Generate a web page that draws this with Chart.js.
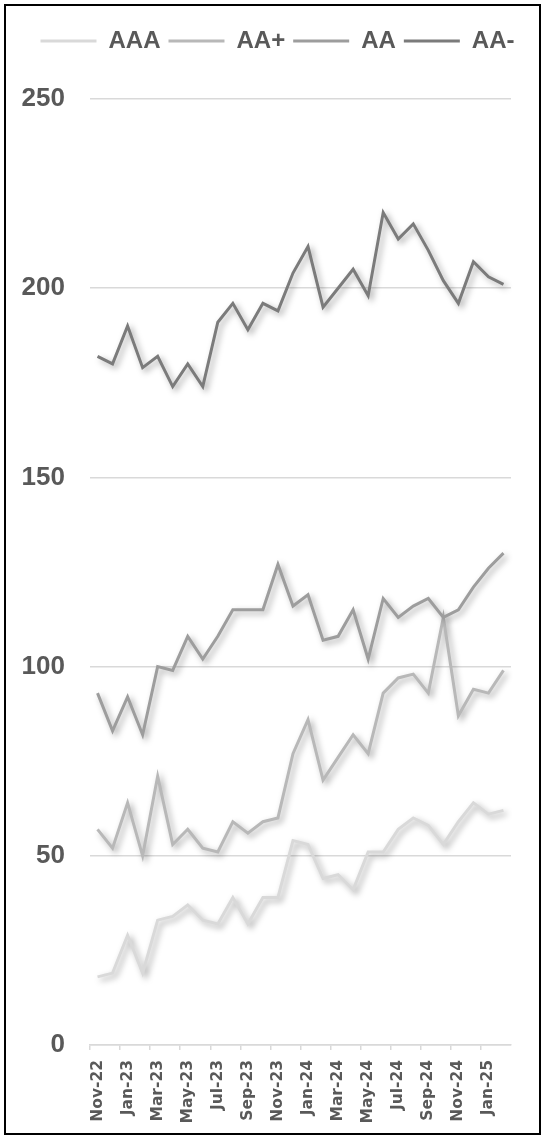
<!DOCTYPE html>
<html>
<head>
<meta charset="utf-8">
<script src="https://cdn.jsdelivr.net/npm/chart.js@4"></script>
<style>
  html, body { margin: 0; padding: 0; background: #ffffff; }
  #frame { position: absolute; left: 4px; top: 4px; width: 537px; height: 1131px; border: 2px solid #000; box-sizing: border-box; }
  #c { position: absolute; left: 0; top: 0; }
</style>
</head>
<body>
<div id="frame"></div>
<canvas id="c" width="548" height="1146"></canvas>
<script>
const months = ['Nov-22','Dec-22','Jan-23','Feb-23','Mar-23','Apr-23','May-23','Jun-23','Jul-23','Aug-23','Sep-23','Oct-23',
                'Nov-23','Dec-23','Jan-24','Feb-24','Mar-24','Apr-24','May-24','Jun-24','Jul-24','Aug-24','Sep-24','Oct-24',
                'Nov-24','Dec-24','Jan-25','Feb-25'];
const seriesNames = ['AAA','AA+','AA','AA-'];
const aaa      = [18,19,29,19,33,34,37,33,32,39,32,39,39,54,53,44,45,41,51,51,57,60,58,53,59,64,61,62];
const aaPlus   = [57,52,64,50,71,53,57,52,51,59,56,59,60,77,86,70,76,82,77,93,97,98,93,113,87,94,93,99];
const aa       = [93,83,92,82,100,99,108,102,108,115,115,115,127,116,119,107,108,115,102,118,113,116,118,113,115,121,126,130];
const aaMinus  = [182,180,190,179,182,174,180,174,191,196,189,196,194,204,211,195,200,205,198,220,213,217,210,202,196,207,203,201];
const yTicks   = [0,50,100,150,200,250];

const colors = ['#d9d9d9','#b8b8b8','#9d9d9d','#7b7b7b'];
const seriesData = [aaa, aaPlus, aa, aaMinus];
const textColor = '#595959';

const shadowPlugin = {
  id: 'lineShadow',
  beforeDatasetDraw(chart) {
    const ctx = chart.ctx;
    ctx.save();
    ctx.shadowColor = 'rgba(0,0,0,0.35)';
    ctx.shadowBlur = 6;
    ctx.shadowOffsetX = 3;
    ctx.shadowOffsetY = 3;
  },
  afterDatasetDraw(chart) {
    chart.ctx.restore();
  }
};

// keep the legend on one row, centred over the plot like the reference
const legendFix = {
  id: 'legendFix',
  afterInit(chart) {
    const lg = chart.legend;
    if (!lg) return;
    const orig = lg.fit.bind(lg);
    lg.fit = function () { this.maxWidth = 600; orig(); this.height = 78; };
  },
  beforeDraw(chart) {
    const lg = chart.legend;
    if (!lg) return;
    lg.left = 10;
    lg.right = 545;
    lg.width = lg.right - lg.left;
  }
};

new Chart(document.getElementById('c'), {
  type: 'line',
  data: {
    labels: months,
    datasets: seriesNames.map((n, i) => ({
      label: n,
      data: seriesData[i],
      borderColor: colors[i],
      backgroundColor: colors[i],
      borderWidth: 3,
      pointRadius: 0,
      tension: 0,
      fill: false,
      order: 3 - i
    }))
  },
  options: {
    responsive: false,
    animation: false,
    devicePixelRatio: 1,
    layout: { padding: { left: 0, right: 37, top: 21, bottom: 0 } },
    plugins: {
      tooltip: { enabled: false },
      legend: {
        position: 'top',
        labels: {
          boxWidth: 56,
          boxHeight: 3,
          padding: 8,
          color: textColor,
          font: { family: "'Liberation Sans', Arial, sans-serif", size: 24, weight: 'bold' },
          generateLabels(chart) {
            const items = Chart.defaults.plugins.legend.labels.generateLabels(chart);
            items.forEach(it => { it.lineWidth = 0; it.fillStyle = it.strokeStyle; });
            items.sort((a, b) => a.datasetIndex - b.datasetIndex);
            return items;
          }
        }
      }
    },
    scales: {
      x: {
        offset: true,
        afterFit(scale) { scale.height = 101; },
        grid: {
          offset: true,
          drawOnChartArea: false,
          drawTicks: true,
          tickLength: 5,
          lineWidth: 1.5,
          color: (ctx) => (ctx.index % 2 === 0 ? '#d9d9d9' : 'rgba(0,0,0,0)')
        },
        border: { display: true, color: '#d9d9d9', width: 1.5 },
        ticks: {
          autoSkip: false,
          minRotation: 90,
          maxRotation: 90,
          padding: 10,
          color: textColor,
          font: { family: "'DejaVu Sans', sans-serif", size: 15.5, weight: 'bold' },
          callback(value, index) { return index % 2 === 0 ? months[index] : ''; }
        }
      },
      y: {
        min: yTicks[0],
        max: yTicks[yTicks.length - 1],
        afterFit(scale) { scale.width = 90; },
        afterBuildTicks(scale) { scale.ticks = yTicks.map(v => ({ value: v })); },
        grid: { color: '#d9d9d9', lineWidth: 1.5, drawTicks: false },
        border: { display: false },
        ticks: {
          padding: 25,
          color: textColor,
          font: { family: "'Liberation Sans', sans-serif", size: 26, weight: 'bold' }
        }
      }
    }
  },
  plugins: [shadowPlugin, legendFix]
});
</script>
</body>
</html>
